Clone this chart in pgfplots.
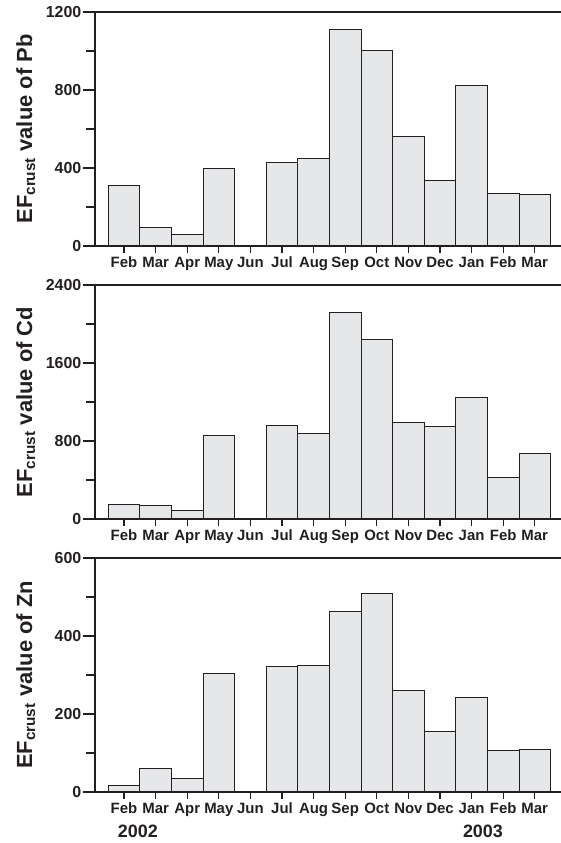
\documentclass[border=0pt]{standalone}
\usepackage{fontspec}
\setmainfont{Liberation Sans}
\usepackage{pgfplots}
\pgfplotsset{compat=1.18}
\definecolor{barfill}{HTML}{E6E7E8}
\definecolor{ink}{HTML}{231F20}
\pgfplotsset{
  panelbase/.style={
    scale only axis, width=466bp, height=234bp, anchor=south west,
    axis x line=bottom, axis y line=left,
    axis line style={-, line width=1.3bp, ink},
    xmin=-0.918, xmax=13.83, ymin=0,
    tick align=outside,
    tick style={line width=1.1bp, ink},
    /pgf/number format/assume math mode=true,
    /pgf/number format/1000 sep={},
    clip=false,
  },
  panel/.style={panelbase,
    xtick=\empty,
    minor y tick num=1,
    major tick length=12bp, minor tick length=9bp,
    yticklabel style={font=\fontsize{16}{19}\selectfont\bfseries, text=ink, inner xsep=1.5bp},
    every axis y label/.style={at={(rel axis cs:-0.135,0.5)}, rotate=90, anchor=base,
      font=\fontsize{22}{26}\selectfont\bfseries, text=ink},
  },
  xpanel/.style={panelbase,
    ytick=\empty, axis y line=none,
    major tick length=7bp,
    xtick={0,...,13},
    xtick style={draw=ink, line width=1.1bp},
    xticklabels={Feb,Mar,Apr,May,Jun,Jul,Aug,Sep,Oct,Nov,Dec,Jan,Feb,Mar},
    xticklabel style={font=\fontsize{15}{18}\selectfont\bfseries, text=ink,
      text height=11bp, text depth=3bp},
  },
  bars/.style={ybar, bar width=1, bar shift=0pt, fill=barfill, draw=ink, line width=0.9bp},
}
\begin{document}
\begin{tikzpicture}
\path[use as bounding box] (0,0) rectangle (561bp,843bp);
\begin{axis}[panel, at={(95bp,597bp)}, ymax=1200, ytick={0,400,800,1200},
  ylabel={EF\textsubscript{crust} value of Pb}]
\addplot[bars] coordinates {(0,313) (1,94) (2,60) (3,396) (5,429) (6,451) (7,1109) (8,1003) (9,561) (10,335) (11,824) (12,270) (13,262)};
\draw[ink, line width=1.3bp] (rel axis cs:0,1) -- (rel axis cs:1,1);
\end{axis}
\begin{axis}[xpanel, at={(95bp,597bp)}, ymax=1200]
\end{axis}
\begin{axis}[panel, at={(95bp,324bp)}, ymax=2400, ytick={0,800,1600,2400},
  ylabel={EF\textsubscript{crust} value of Cd}]
\addplot[bars] coordinates {(0,147) (1,140) (2,92) (3,855) (5,957) (6,882) (7,2116) (8,1846) (9,988) (10,951) (11,1248) (12,428) (13,674)};
\draw[ink, line width=1.3bp] (rel axis cs:0,1) -- (rel axis cs:1,1);
\end{axis}
\begin{axis}[xpanel, at={(95bp,324bp)}, ymax=2400]
\end{axis}
\begin{axis}[panel, at={(95bp,51bp)}, ymax=600, ytick={0,200,400,600},
  ylabel={EF\textsubscript{crust} value of Zn}]
\addplot[bars] coordinates {(0,18) (1,61) (2,34) (3,304) (5,321) (6,325) (7,463) (8,510) (9,260) (10,154) (11,243) (12,107) (13,108)};
\draw[ink, line width=1.3bp] (rel axis cs:0,1) -- (rel axis cs:1,1);
\node[anchor=base, yshift=-45bp, font=\fontsize{18}{21}\selectfont\bfseries, text=ink] at (axis cs:0.44,0) {2002};
\node[anchor=base, yshift=-45bp, font=\fontsize{18}{21}\selectfont\bfseries, text=ink] at (axis cs:11.36,0) {2003};
\end{axis}
\begin{axis}[xpanel, at={(95bp,51bp)}, ymax=600]
\end{axis}
\end{tikzpicture}
\end{document}
